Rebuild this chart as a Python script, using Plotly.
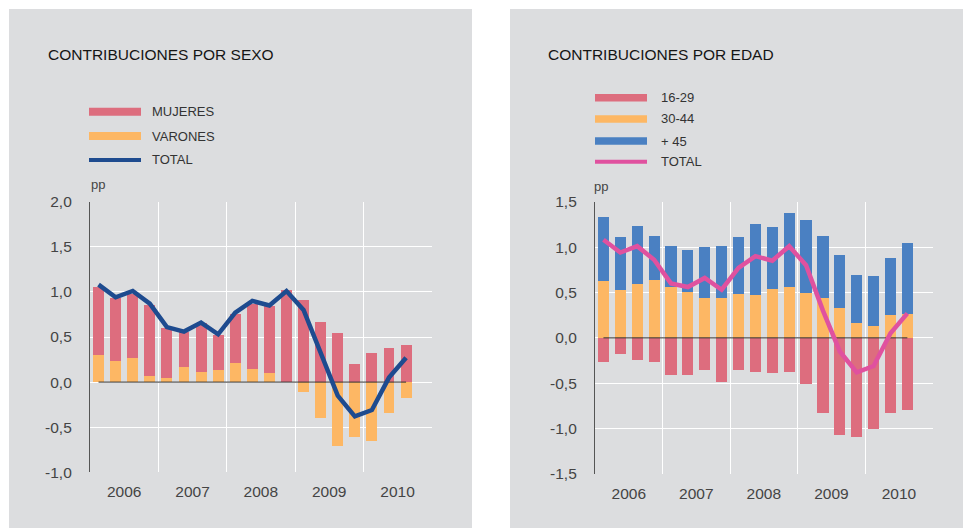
import plotly.graph_objects as go

# ---------------- data ----------------
periods = ["06-I", "06-II", "06-III", "06-IV",
           "07-I", "07-II", "07-III", "07-IV",
           "08-I", "08-II", "08-III", "08-IV",
           "09-I", "09-II", "09-III", "09-IV",
           "10-I", "10-II", "10-III"]
years = ["2006", "2007", "2008", "2009", "2010"]

mujeres = [0.76, 0.70, 0.71, 0.79, 0.55, 0.39, 0.55, 0.39, 0.55, 0.72,
           0.75, 1.02, 0.91, 0.67, 0.55, 0.20, 0.33, 0.38, 0.42]
varones = [0.30, 0.24, 0.27, 0.07, 0.05, 0.17, 0.11, 0.14, 0.21, 0.15,
           0.10, 0.00, -0.11, -0.39, -0.70, -0.60, -0.65, -0.34, -0.17]
total_sexo = [1.08, 0.94, 1.01, 0.87, 0.61, 0.56, 0.66, 0.53, 0.77, 0.90,
              0.85, 1.01, 0.80, 0.31, -0.15, -0.38, -0.31, 0.05, 0.27]

edad_16_29 = [-0.26, -0.17, -0.24, -0.26, -0.41, -0.41, -0.35, -0.48, -0.35, -0.37,
              -0.38, -0.37, -0.50, -0.83, -1.07, -1.09, -1.00, -0.83, -0.79]
edad_30_44 = [0.63, 0.53, 0.60, 0.64, 0.56, 0.51, 0.44, 0.44, 0.49, 0.48,
              0.54, 0.56, 0.50, 0.44, 0.33, 0.17, 0.13, 0.26, 0.27]
edad_45 = [0.70, 0.58, 0.64, 0.48, 0.45, 0.46, 0.56, 0.57, 0.62, 0.78,
           0.69, 0.82, 0.80, 0.69, 0.59, 0.53, 0.56, 0.62, 0.78]
total_edad = [1.08, 0.94, 1.01, 0.86, 0.60, 0.56, 0.66, 0.53, 0.77, 0.90,
              0.85, 1.01, 0.80, 0.30, -0.15, -0.38, -0.31, 0.05, 0.27]

left_ticks = [-1.0, -0.5, 0.0, 0.5, 1.0, 1.5, 2.0]
right_ticks = [-1.5, -1.0, -0.5, 0.0, 0.5, 1.0, 1.5]

# ---------------- style ----------------
W, H = 963, 528
FONT = "Liberation Sans, Arial, sans-serif"
RED = "#dd6d7e"
ORANGE = "#fdb764"
BLUE = "#4a80c2"
NAVY = "#1e4b8f"
PINK = "#e0519f"
PANEL = "#dcdddf"
TXT = "#444444"

x = list(range(len(periods)))
zeros = [0 for _ in periods]
year_centers = [4 * i + 1.5 for i in range(len(years))]
year_bounds = [4 * i - 0.5 for i in range(len(years) + 1)]


def px(v):
    return v / W


def py(v):
    return 1 - v / H


fig = go.Figure()

# left panel
fig.add_trace(go.Bar(x=x, y=varones, name="VARONES", marker_color=ORANGE,
                     width=0.64, xaxis="x", yaxis="y", marker_line_width=0))
fig.add_trace(go.Bar(x=x, y=mujeres, name="MUJERES", marker_color=RED,
                     width=0.64, xaxis="x", yaxis="y", marker_line_width=0))
fig.add_trace(go.Scatter(x=x, y=zeros, mode="lines", line=dict(color="#333333", width=1),
                         xaxis="x", yaxis="y", hoverinfo="skip"))
fig.add_trace(go.Scatter(x=x, y=total_sexo, mode="lines", name="TOTAL",
                         line=dict(color=NAVY, width=4.5), xaxis="x", yaxis="y"))

# right panel
fig.add_trace(go.Bar(x=x, y=edad_30_44, name="30-44", marker_color=ORANGE,
                     width=0.66, xaxis="x2", yaxis="y2", marker_line_width=0))
fig.add_trace(go.Bar(x=x, y=edad_45, name="+ 45", marker_color=BLUE,
                     width=0.66, xaxis="x2", yaxis="y2", marker_line_width=0))
fig.add_trace(go.Bar(x=x, y=edad_16_29, name="16-29", marker_color=RED,
                     width=0.66, xaxis="x2", yaxis="y2", marker_line_width=0))
fig.add_trace(go.Scatter(x=x, y=zeros, mode="lines", line=dict(color="#333333", width=1),
                         xaxis="x2", yaxis="y2", hoverinfo="skip"))
fig.add_trace(go.Scatter(x=x, y=total_edad, mode="lines", name="TOTAL",
                         line=dict(color=PINK, width=4.5), xaxis="x2", yaxis="y2"))


def xaxis_cfg(domain):
    return dict(domain=domain, range=[-0.5, len(periods) + 0.5], tickmode="array",
                tickvals=year_centers, ticktext=years, showgrid=False, zeroline=False,
                showline=False, ticks="outside", ticklen=5, tickcolor="rgba(0,0,0,0)",
                automargin=False,
                tickfont=dict(size=15.5, color=TXT, family=FONT), fixedrange=True,
                minor=dict(tickmode="array", tickvals=year_bounds, showgrid=True,
                           gridcolor="white", gridwidth=1.3, ticks=""))


def yaxis_cfg(domain, ticks, anchor):
    return dict(domain=domain, anchor=anchor, range=[ticks[0], ticks[-1]], tickmode="array",
                tickvals=ticks, ticktext=[f"{t:.1f}".replace(".", ",") for t in ticks],
                showgrid=True, gridcolor="white", gridwidth=1.3, zeroline=False,
                showline=True, linecolor="#555555", linewidth=1.2, automargin=False,
                ticks="outside", ticklen=14, tickcolor="rgba(0,0,0,0)",
                tickfont=dict(size=15.5, color=TXT, family=FONT), fixedrange=True)


L_X = [px(90), px(431.7)]
R_X = [px(595), px(932.7)]
L_Y = [py(472.3), py(201.7)]
R_Y = [py(474), py(201.7)]

shapes = [
    dict(type="rect", xref="paper", yref="paper", x0=px(9), x1=px(472), y0=0, y1=py(9),
         fillcolor=PANEL, line_width=0, layer="below"),
    dict(type="rect", xref="paper", yref="paper", x0=px(510), x1=1, y0=0, y1=py(9),
         fillcolor=PANEL, line_width=0, layer="below"),
]
annotations = [
    dict(text="CONTRIBUCIONES POR SEXO", x=px(46), y=py(55), xref="paper", yref="paper",
         xanchor="left", yanchor="middle", showarrow=False,
         font=dict(size=15.5, color="#151515", family=FONT)),
    dict(text="CONTRIBUCIONES POR EDAD", x=px(546), y=py(55), xref="paper", yref="paper",
         xanchor="left", yanchor="middle", showarrow=False,
         font=dict(size=15.5, color="#151515", family=FONT)),
    dict(text="pp", x=px(89), y=py(184), xref="paper", yref="paper", xanchor="left",
         yanchor="middle", showarrow=False, font=dict(size=13, color=TXT, family=FONT)),
    dict(text="pp", x=px(592), y=py(186), xref="paper", yref="paper", xanchor="left",
         yanchor="middle", showarrow=False, font=dict(size=13, color=TXT, family=FONT)),
]

legend_left = [("MUJERES", RED, 8, 111.7), ("VARONES", ORANGE, 8, 136), ("TOTAL", NAVY, 4, 160)]
legend_right = [("16-29", RED, 7.5, 97.7), ("30-44", ORANGE, 7.5, 119),
                ("+ 45", BLUE, 7.5, 141), ("TOTAL", PINK, 4, 161.7)]
for items, sx0, sx1, tx in [(legend_left, 89, 141, 150), (legend_right, 595, 647, 659)]:
    for name, col, th, yc in items:
        shapes.append(dict(type="rect", xref="paper", yref="paper", x0=px(sx0), x1=px(sx1),
                           y0=py(yc + th / 2), y1=py(yc - th / 2), fillcolor=col,
                           line_width=0, layer="above"))
        annotations.append(dict(text=name, x=px(tx), y=py(yc), xref="paper", yref="paper",
                                xanchor="left", yanchor="middle", showarrow=False,
                                font=dict(size=13, color="#333333", family=FONT)))

fig.update_layout(
    width=W, height=H, autosize=False,
    margin=dict(l=0, r=0, t=0, b=0, pad=0, autoexpand=False),
    paper_bgcolor="white", plot_bgcolor="rgba(0,0,0,0)",
    barmode="relative", bargap=0, showlegend=False,
    font=dict(family=FONT, color=TXT),
    xaxis=dict(**xaxis_cfg(L_X), anchor="y"),
    yaxis=yaxis_cfg(L_Y, left_ticks, "x"),
    xaxis2=dict(**xaxis_cfg(R_X), anchor="y2"),
    yaxis2=yaxis_cfg(R_Y, right_ticks, "x2"),
    shapes=shapes, annotations=annotations,
)

fig.write_html(
    "out.html",
    config={"responsive": False, "displayModeBar": False},
    post_script=(
        "document.documentElement.style.margin='0px';"
        "document.body.style.margin='0px';"
        "document.body.style.padding='0px';"
        "document.documentElement.style.overflow='hidden';"
        "document.body.style.overflow='hidden';"
        "var gd=document.getElementById('{plot_id}');"
        "gd.style.position='fixed';gd.style.top='0px';gd.style.left='0px';"
    ),
)
